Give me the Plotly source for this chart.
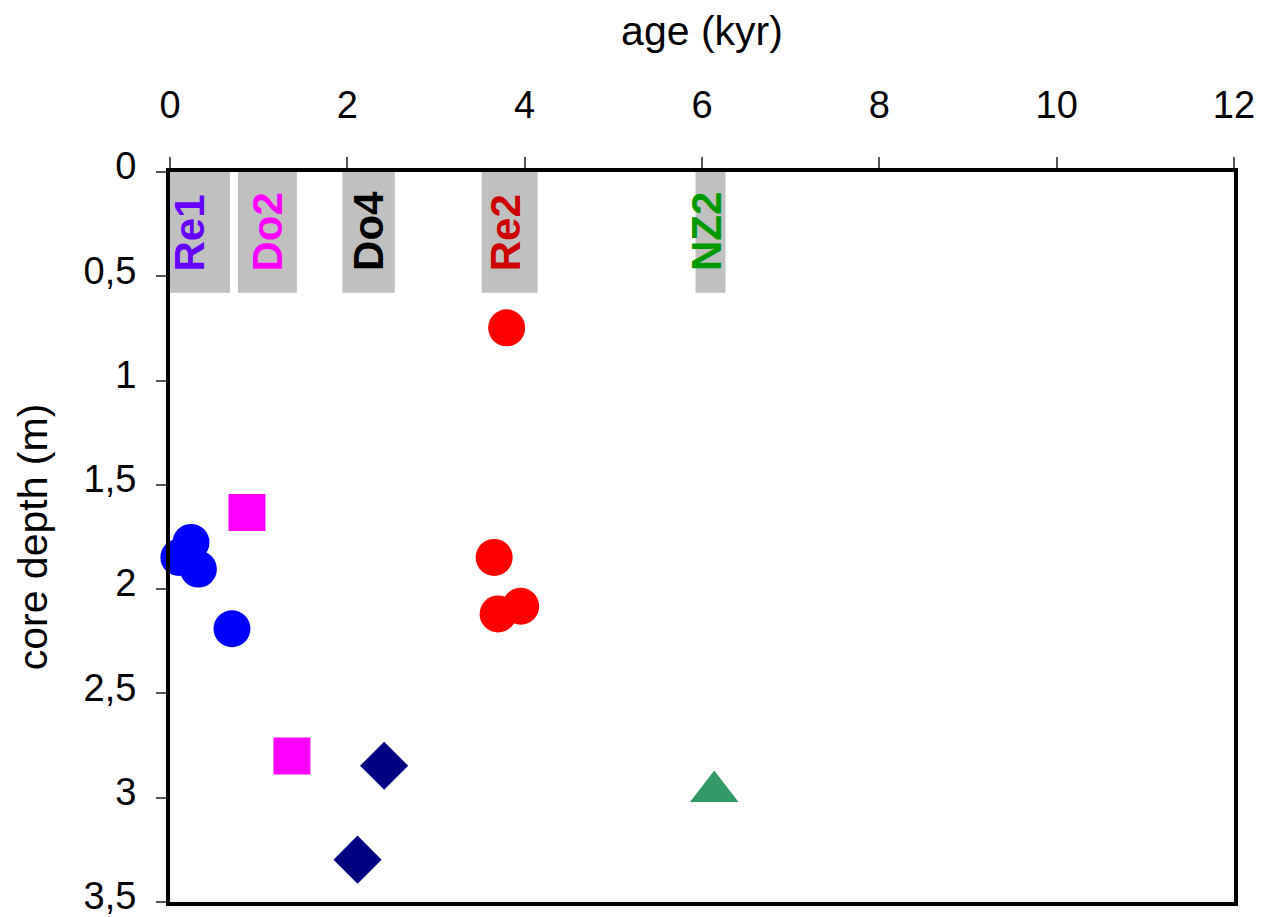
import plotly.graph_objects as go

# ---- data ----
re1_age = [0.237, 0.10, 0.32, 0.699]
re1_depth = [1.776, 1.848, 1.904, 2.19]

re2_age = [3.797, 3.656, 3.70, 3.955]
re2_depth = [0.747, 1.848, 2.119, 2.082]

do2_age = [0.868, 1.375]
do2_depth = [1.632, 2.80]

do4_age = [2.415, 2.115]
do4_depth = [2.847, 3.297]

nz2_age = [6.138]
nz2_depth = [2.97]

site_names = ["Re1", "Do2", "Do4", "Re2", "NZ2"]
band_start = [0.0, 0.766, 1.944, 3.515, 5.927]
band_end = [0.676, 1.431, 2.535, 4.146, 6.265]
band_depth = [0.579, 0.579, 0.579, 0.579, 0.579]
label_age = [0.225, 1.104, 2.231, 3.786, 6.05]
label_colors = ["#6600FF", "#FF00FF", "#000000", "#CC0000", "#009900"]

x_ticks = [0, 2, 4, 6, 8, 10, 12]
y_ticks = [0, 0.5, 1, 1.5, 2, 2.5, 3, 3.5]
y_ticktext = ["0", "0,5", "1", "1,5", "2", "2,5", "3", "3,5"]

FONT = "Liberation Sans, Arial, sans-serif"

fig = go.Figure()

series = [
    (re1_age, re1_depth, "circle", "#0000FF", 37),
    (re2_age, re2_depth, "circle", "#FF0000", 37),
    (do2_age, do2_depth, "square", "#FF00FF", 37),
    (do4_age, do4_depth, "diamond", "#000080", 37),
    (nz2_age, nz2_depth, "triangle-up", "#339966", 42),
]
for xs, ys, sym, col, sz in series:
    fig.add_trace(go.Scatter(
        x=xs, y=ys, mode="markers", cliponaxis=False, showlegend=False,
        marker=dict(symbol=sym, color=col, size=sz, line=dict(width=0)),
    ))

for name, x0, x1, d, lx, lc in zip(site_names, band_start, band_end, band_depth, label_age, label_colors):
    fig.add_shape(type="rect", xref="x", yref="y", x0=x0, x1=x1, y0=0, y1=d,
                  fillcolor="#C0C0C0", line=dict(width=0), layer="below")
    fig.add_annotation(x=lx, y=0.48, xref="x", yref="y", text=name, textangle=-90,
                       showarrow=False, xanchor="center", yanchor="bottom", borderpad=0,
                       font=dict(family=FONT, size=42, color=lc, weight="bold"))

# the page body adds an 8px offset, so the figure is 8px smaller on each axis
fig.update_layout(
    width=1263, height=909,
    margin=dict(l=162, r=37, t=164, b=15),
    paper_bgcolor="white", plot_bgcolor="white",
    font=dict(family=FONT, size=38, color="black"),
    showlegend=False,
)
fig.update_xaxes(
    side="top", range=[0, 12], tickvals=x_ticks, ticktext=[str(v) for v in x_ticks],
    showgrid=False, zeroline=False, showline=True, linecolor="black", linewidth=4, mirror=True,
    ticks="outside", ticklen=11, tickwidth=1.5, tickcolor="#555555",
    ticklabelstandoff=24, ticklabeloverflow="allow", automargin=False,
    tickfont=dict(family=FONT, size=38, color="black"),
    title=dict(text="age (kyr)", font=dict(family=FONT, size=41, color="black"), standoff=28),
)
fig.update_yaxes(
    range=[3.5, 0], tickvals=y_ticks, ticktext=y_ticktext,
    showgrid=False, zeroline=False, showline=True, linecolor="black", linewidth=4, mirror=True,
    ticks="outside", ticklen=10, tickwidth=1.5, tickcolor="#555555",
    ticklabelstandoff=12, ticklabelshift=6, ticklabeloverflow="allow", automargin=False,
    tickfont=dict(family=FONT, size=38, color="black"),
    title=dict(text="core depth (m)", font=dict(family=FONT, size=41, color="black"), standoff=24),
)

fig.write_html("out.html")
